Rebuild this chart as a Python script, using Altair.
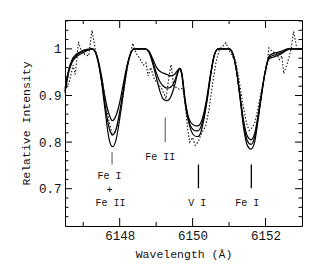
import altair as alt
import pandas as pd

# ---- model spectra (three synthetic fits) ----
wl = [6146.50, 6146.60, 6146.70, 6146.80, 6146.90, 6147.00, 6147.10, 6147.25,
      6147.40, 6147.50, 6147.60, 6147.70, 6147.80, 6147.90, 6148.00, 6148.10,
      6148.20, 6148.30, 6148.40, 6148.70, 6148.80, 6148.90, 6149.00, 6149.10,
      6149.20, 6149.30, 6149.40, 6149.50, 6149.60, 6149.65, 6149.70, 6149.80,
      6149.90, 6150.00, 6150.10, 6150.15, 6150.20, 6150.30, 6150.40, 6150.50,
      6150.60, 6150.70, 6151.00, 6151.10, 6151.20, 6151.30, 6151.40, 6151.50,
      6151.60, 6151.70, 6151.80, 6151.90, 6152.00, 6152.10, 6152.20, 6152.30,
      6152.40, 6152.50, 6152.60, 6152.70, 6153.00]

model_deep = [0.905, 0.950, 0.972, 0.982, 0.988, 0.992, 0.996, 1.000,
              0.975, 0.930, 0.868, 0.810, 0.790, 0.805, 0.850, 0.905,
              0.958, 0.990, 1.000, 1.000, 0.993, 0.970, 0.940, 0.910,
              0.892, 0.889, 0.897, 0.920, 0.950, 0.958, 0.945, 0.880,
              0.840, 0.818, 0.812, 0.812, 0.816, 0.845, 0.890, 0.945,
              0.988, 1.000, 1.000, 0.990, 0.955, 0.895, 0.830, 0.793,
              0.785, 0.800, 0.850, 0.905, 0.955, 0.979, 0.982, 0.985,
              0.988, 0.993, 0.998, 1.000, 1.000]

model_mid = [0.910, 0.952, 0.975, 0.985, 0.991, 0.995, 0.998, 1.000,
             0.977, 0.935, 0.880, 0.834, 0.815, 0.828, 0.865, 0.914,
             0.960, 0.990, 1.000, 1.000, 0.995, 0.975, 0.950, 0.930,
             0.920, 0.916, 0.918, 0.930, 0.952, 0.958, 0.948, 0.885,
             0.845, 0.828, 0.824, 0.824, 0.828, 0.853, 0.895, 0.948,
             0.988, 1.000, 1.000, 0.990, 0.955, 0.898, 0.838, 0.803,
             0.795, 0.810, 0.855, 0.908, 0.955, 0.982, 0.986, 0.988,
             0.991, 0.995, 0.999, 1.000, 1.000]

model_shallow = [0.915, 0.955, 0.978, 0.988, 0.993, 0.997, 0.999, 1.000,
                 0.979, 0.942, 0.895, 0.862, 0.846, 0.857, 0.885, 0.925,
                 0.964, 0.990, 1.000, 1.000, 0.995, 0.980, 0.962, 0.952,
                 0.948, 0.945, 0.942, 0.945, 0.955, 0.958, 0.950, 0.888,
                 0.850, 0.838, 0.835, 0.835, 0.838, 0.860, 0.900, 0.950,
                 0.988, 1.000, 1.000, 0.990, 0.955, 0.900, 0.845, 0.813,
                 0.805, 0.818, 0.860, 0.910, 0.955, 0.985, 0.990, 0.992,
                 0.994, 0.997, 1.000, 1.000, 1.000]

# ---- observed spectrum (dotted) ----
obs_wl = [6146.50, 6146.62, 6146.72, 6146.78, 6146.87, 6146.95, 6147.05, 6147.15,
          6147.24, 6147.33, 6147.45, 6147.55, 6147.65, 6147.72, 6147.80, 6147.88,
          6147.95, 6148.05, 6148.15, 6148.25, 6148.36, 6148.45, 6148.55, 6148.65,
          6148.72, 6148.78, 6148.85, 6148.95, 6149.05, 6149.15, 6149.27, 6149.35,
          6149.41, 6149.48, 6149.56, 6149.64, 6149.73, 6149.80, 6149.86, 6149.92,
          6150.00, 6150.07, 6150.15, 6150.25, 6150.36, 6150.45, 6150.55, 6150.65,
          6150.74, 6150.82, 6150.91, 6151.00, 6151.08, 6151.18, 6151.28, 6151.38,
          6151.48, 6151.55, 6151.62, 6151.70, 6151.77, 6151.86, 6151.95, 6152.04,
          6152.09, 6152.18, 6152.30, 6152.38, 6152.45, 6152.50, 6152.58, 6152.64,
          6152.70, 6152.77, 6152.86, 6152.95]
obs_flux = [0.910, 0.930, 0.965, 0.945, 1.015, 0.995, 0.988, 0.985,
            1.040, 1.000, 0.960, 0.920, 0.870, 0.840, 0.815, 0.820,
            0.840, 0.875, 0.930, 0.975, 1.012, 0.990, 0.980, 0.965,
            0.970, 0.942, 0.960, 0.935, 0.925, 0.915, 0.893, 0.940,
            0.966, 0.920, 0.917, 0.913, 0.916, 0.880, 0.830, 0.800,
            0.810, 0.793, 0.800, 0.820, 0.835, 0.870, 0.927, 0.975,
            1.000, 1.005, 1.013, 0.998, 0.985, 0.975, 0.930, 0.880,
            0.840, 0.825, 0.830, 0.840, 0.863, 0.900, 0.935, 0.963,
            1.002, 0.995, 0.990, 0.977, 0.985, 0.947, 0.965, 0.980,
            1.000, 1.037, 1.000, 1.000]

# ---- line identifications ----
mark_wl = [6147.79, 6149.25, 6150.16, 6151.61]
mark_lo = [0.752, 0.800, 0.701, 0.701]
mark_hi = [0.778, 0.853, 0.752, 0.752]
mark_col = ["#777777", "#777777", "#000000", "#000000"]

label_text = ["Fe I", "+", "Fe II", "Fe II", "V I", "Fe I"]
label_wl = [6147.72, 6147.72, 6147.75, 6149.11, 6150.13, 6151.50]
label_y = [0.727, 0.697, 0.669, 0.769, 0.669, 0.669]

x_major = [6148, 6150, 6152]
x_minor = [6147, 6149, 6151]
y_major = [0.7, 0.8, 0.9, 1.0]
y_minor = [0.64, 0.66, 0.68, 0.72, 0.74, 0.76, 0.78, 0.82, 0.84, 0.86, 0.88,
           0.92, 0.94, 0.96, 0.98, 1.02, 1.04, 1.06]

W, H = 237, 206
FONT = "Liberation Mono"

xscale = alt.Scale(domain=[6146.5, 6153.0], nice=False, zero=False)
yscale = alt.Scale(domain=[0.62, 1.062], nice=False, zero=False)

XAXIS = alt.Axis(values=x_major, format="d", title="Wavelength (Å)",
                 ticks=False, domain=False, grid=False,
                 labelFont=FONT, labelFontSize=12.5, labelColor="#111",
                 labelPadding=3, titleFont=FONT, titleFontSize=11.5,
                 titleFontWeight="normal", titleColor="#111", titlePadding=7)
YAXIS = alt.Axis(values=y_major, title="Relative Intensity",
                 labelExpr="datum.value == 1 ? '1' : format(datum.value, '.1f')",
                 ticks=False, domain=False, grid=False,
                 labelFont=FONT, labelFontSize=12.5, labelColor="#111",
                 labelPadding=4, titleFont=FONT, titleFontSize=11.5,
                 titleFontWeight="normal", titleColor="#111", titlePadding=7)


def X(field):
    return alt.X(field, scale=xscale, axis=XAXIS, title="Wavelength (Å)")


def Y(field):
    return alt.Y(field, scale=yscale, axis=YAXIS, title="Relative Intensity")


rows = []
for name, ys in [("deep", model_deep), ("mid", model_mid), ("shallow", model_shallow)]:
    for x, y in zip(wl, ys):
        rows.append({"wl": x, "flux": y, "model": name})
models = pd.DataFrame(rows)
obs = pd.DataFrame({"wl": obs_wl, "flux": obs_flux})
marks_df = pd.DataFrame({"wl": mark_wl, "lo": mark_lo, "hi": mark_hi, "col": mark_col})
labels_df = pd.DataFrame({"wl": label_wl, "y": label_y, "text": label_text})

model_layer = alt.Chart(models).mark_line(
    color="black", strokeWidth=1.2, interpolate="monotone"
).encode(x=X("wl:Q"), y=Y("flux:Q"), detail="model:N")

obs_layer = alt.Chart(obs).mark_line(
    color="#111111", strokeWidth=1.1, strokeDash=[1.5, 1.8]
).encode(x=X("wl:Q"), y=Y("flux:Q"))

id_lines = alt.Chart(marks_df).mark_rule(strokeWidth=1.3).encode(
    x=X("wl:Q"), y=Y("lo:Q"), y2="hi:Q",
    color=alt.Color("col:N", scale=None),
)

id_text = alt.Chart(labels_df).mark_text(
    font=FONT, fontSize=10, color="#111", align="center", baseline="middle"
).encode(x=X("wl:Q"), y=Y("y:Q"), text="text:N")


def xticks(vals, length):
    df = pd.DataFrame({"v": vals})
    bottom = alt.Chart(df).mark_rule(color="black", strokeWidth=1).encode(
        x=X("v:Q"), y=alt.value(H), y2=alt.value(H - length))
    top = alt.Chart(df).mark_rule(color="black", strokeWidth=1).encode(
        x=X("v:Q"), y=alt.value(0), y2=alt.value(length))
    return [bottom, top]


def yticks(vals, length):
    df = pd.DataFrame({"v": vals})
    left = alt.Chart(df).mark_rule(color="black", strokeWidth=1).encode(
        y=Y("v:Q"), x=alt.value(0), x2=alt.value(length))
    right = alt.Chart(df).mark_rule(color="black", strokeWidth=1).encode(
        y=Y("v:Q"), x=alt.value(W), x2=alt.value(W - length))
    return [left, right]


tick_layers = xticks(x_major, 8) + xticks(x_minor, 4) + yticks(y_major, 7) + yticks(y_minor, 3.5)

chart = alt.layer(
    model_layer, obs_layer, id_lines, id_text, *tick_layers
).properties(
    width=W, height=H,
    padding={"left": 57, "top": 12, "right": 17, "bottom": 45},
    autosize="none",
    background="white",
).configure_view(
    stroke="black", strokeWidth=1
)

chart.save("out.html", embed_options={"renderer": "svg", "actions": False})
